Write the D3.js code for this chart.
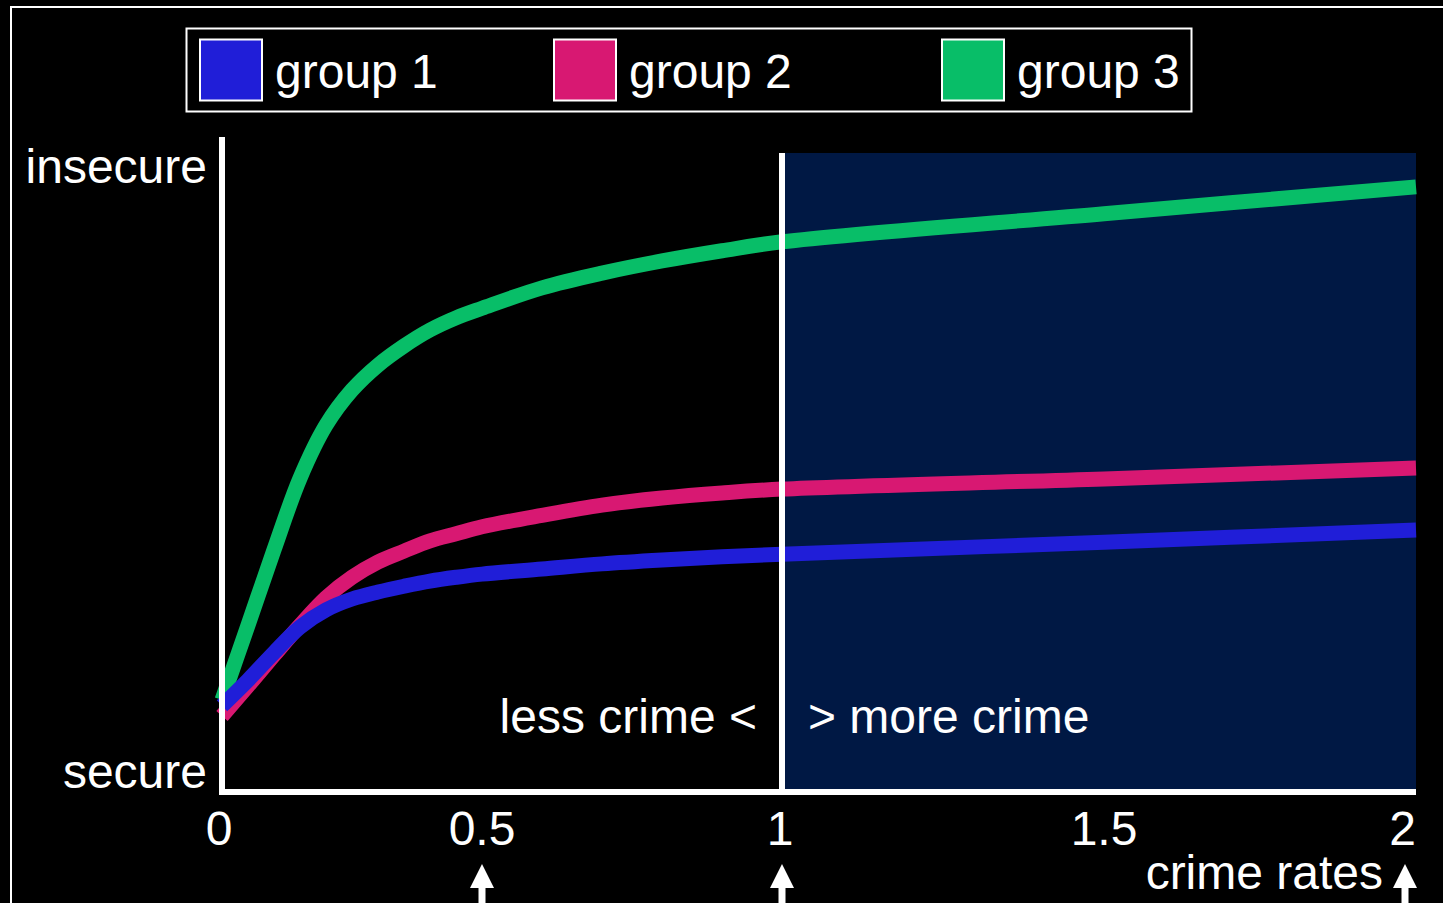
<!DOCTYPE html>
<html>
<head>
<meta charset="utf-8">
<script src="https://cdn.jsdelivr.net/npm/d3@7"></script>
<style>
  html, body { margin: 0; padding: 0; background: #000; overflow: hidden; }
  svg text { font-family: "Liberation Sans", Arial, sans-serif; fill: #fff; }
</style>
</head>
<body>
<svg id="chart" width="1443" height="903"></svg>
<script>
// ---------- data ----------
const groups = ["group 1", "group 2", "group 3"];
const colors = ["#201ED8", "#D81872", "#08BE68"];
const crimeRates = [0, 0.05, 0.1, 0.15, 0.2, 0.25, 0.3, 0.35, 0.4, 0.45, 0.5, 0.6, 0.7, 0.8, 0.9, 1.0, 1.5, 2.0];
const group1 = [13.5, 17.5, 21.8, 25.8, 28.5, 30.2, 31.3, 32.2, 33.0, 33.6, 34.1, 34.9, 35.7, 36.3, 36.8, 37.2, 39.1, 41.0];
const group2 = [11.9, 16.6, 21.4, 26.1, 30.4, 33.6, 36.0, 37.7, 39.3, 40.4, 41.5, 43.3, 44.9, 46.0, 46.8, 47.4, 49.0, 50.7];
const group3 = [14.4, 26.1, 37.9, 49.1, 57.4, 62.9, 66.8, 69.8, 72.3, 74.2, 75.7, 78.9, 81.2, 83.1, 84.7, 86.1, 90.5, 94.7];
const xTicks = [0, 0.5, 1, 1.5, 2];
const xTickLabels = ["0", "0.5", "1", "1.5", "2"];
const arrowTicks = [0.5, 1, 2];
const yLabels = ["secure", "insecure"];
const xTitle = "crime rates";
const splitValue = 1;
const leftNote = "less crime <";
const rightNote = "> more crime";

// ---------- layout ----------
const svg = d3.select("#chart");
const x = d3.scaleLinear().domain([0, 0.5, 1, 1.5, 2]).range([222, 482, 782, 1104, 1416]);
const y = d3.scaleLinear().domain([0, 100]).range([792, 153]);
const FS = 48;

// outer frame
svg.append("rect").attr("x", 11).attr("y", 7).attr("width", 1600).attr("height", 1000)
  .attr("fill", "none").attr("stroke", "#fff").attr("stroke-width", 2);

// legend
const lg = svg.append("g");
lg.append("rect").attr("x", 186.5).attr("y", 28.5).attr("width", 1005).attr("height", 83)
  .attr("fill", "#000").attr("stroke", "#fff").attr("stroke-width", 2);
const legX = [200, 554, 942];
groups.forEach((g, i) => {
  lg.append("rect").attr("x", legX[i]).attr("y", 39.5).attr("width", 62).attr("height", 61)
    .attr("fill", colors[i]).attr("stroke", "#fff").attr("stroke-width", 2);
  lg.append("text").attr("x", legX[i] + 75).attr("y", 88)
    .attr("font-size", FS).text(g);
});

// shaded "more crime" region
svg.append("rect")
  .attr("x", x(splitValue)).attr("y", y(100))
  .attr("width", x(2) - x(splitValue)).attr("height", y(0) - y(100))
  .attr("fill", "#001844");

// curves
const series = [group3, group2, group1];
const seriesColors = [colors[2], colors[1], colors[0]];
const line = d3.line()
  .x((d, i) => x(crimeRates[i]))
  .y(d => y(d))
  .curve(d3.curveCatmullRom.alpha(0.5));
series.forEach((s, k) => {
  svg.append("path").datum(s).attr("d", line)
    .attr("fill", "none").attr("stroke", seriesColors[k])
    .attr("stroke-width", 15).attr("stroke-linecap", "butt").attr("stroke-linejoin", "round");
});

// split line at x = 1
svg.append("line").attr("x1", x(splitValue)).attr("x2", x(splitValue))
  .attr("y1", y(100)).attr("y2", y(0) + 3)
  .attr("stroke", "#fff").attr("stroke-width", 6);

// axes
svg.append("line").attr("x1", x(0)).attr("x2", x(0)).attr("y1", 137).attr("y2", y(0) + 3)
  .attr("stroke", "#fff").attr("stroke-width", 6);
svg.append("line").attr("x1", x(0) - 3).attr("x2", x(2)).attr("y1", y(0)).attr("y2", y(0))
  .attr("stroke", "#fff").attr("stroke-width", 6);

// y labels
svg.append("text").attr("x", 207).attr("y", 183).attr("text-anchor", "end")
  .attr("font-size", FS).text(yLabels[1]);
svg.append("text").attr("x", 207).attr("y", 788).attr("text-anchor", "end")
  .attr("font-size", FS).text(yLabels[0]);

// x tick labels
xTicks.forEach((t, i) => {
  const last = i === xTicks.length - 1;
  svg.append("text")
    .attr("x", last ? x(t) : x(t) - (i === 0 ? 3 : (i === 2 ? 2 : 0)))
    .attr("y", 845)
    .attr("text-anchor", last ? "end" : "middle")
    .attr("font-size", FS).text(xTickLabels[i]);
});

// x title
svg.append("text").attr("x", 1383).attr("y", 889).attr("text-anchor", "end")
  .attr("font-size", FS).text(xTitle);

// arrows
arrowTicks.forEach(t => {
  const cx = Math.min(x(t), 1405);
  const p = d3.path();
  p.moveTo(cx, 864);
  p.lineTo(cx + 12, 888);
  p.lineTo(cx + 3.5, 888);
  p.lineTo(cx + 3.5, 910);
  p.lineTo(cx - 3.5, 910);
  p.lineTo(cx - 3.5, 888);
  p.lineTo(cx - 12, 888);
  p.closePath();
  svg.append("path").attr("d", p.toString()).attr("fill", "#fff");
});

// notes around the split
svg.append("text").attr("x", x(splitValue) - 25).attr("y", 733).attr("text-anchor", "end")
  .attr("font-size", FS).text(leftNote);
svg.append("text").attr("x", x(splitValue) + 26).attr("y", 733).attr("text-anchor", "start")
  .attr("font-size", FS).text(rightNote);
</script>
</body>
</html>
